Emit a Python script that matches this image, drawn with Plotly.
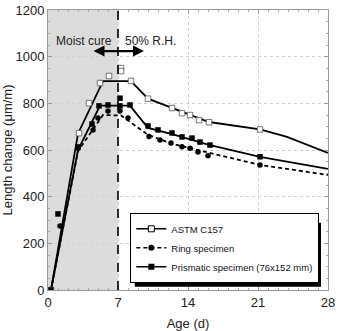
import plotly.graph_objects as go

# ---- data ----
astm_line_x = [0.3, 3.0, 5.5, 8.3, 10.0, 12.4, 14.2, 16.1, 21.2, 23.9, 28.0]
astm_line_y = [0, 670, 895, 895, 820, 780, 750, 720, 688, 656, 587]
astm_pts_x = [0.3, 3.1, 4.1, 5.2, 6.1, 7.3, 7.3, 8.3, 10.0, 12.4, 13.4, 14.2, 15.1, 16.1, 21.2]
astm_pts_y = [0, 672, 801, 887, 917, 951, 938, 896, 820, 780, 758, 750, 728, 719, 688]

ring_line_x = [0.3, 3.0, 5.5, 7.3, 10.0, 12.4, 16.1, 21.2, 28.0]
ring_line_y = [0, 595, 750, 748, 665, 627, 588, 536, 493]
ring_pts_x = [1.2, 3.0, 4.5, 5.0, 6.0, 7.2, 8.0, 10.1, 11.2, 12.3, 13.4, 14.2, 15.0, 16.0, 21.2]
ring_pts_y = [274, 608, 686, 737, 767, 767, 737, 658, 643, 630, 614, 608, 591, 575, 536]

prism_line_x = [0.3, 3.0, 5.2, 8.2, 10.0, 12.4, 16.1, 21.2, 28.0]
prism_line_y = [0, 600, 790, 790, 695, 668, 622, 571, 519]
prism_pts_x = [0.3, 1.0, 3.0, 4.4, 5.1, 6.0, 7.2, 7.2, 8.2, 10.0, 11.0, 12.4, 13.4, 14.4, 15.2, 16.2, 21.2]
prism_pts_y = [0, 326, 613, 711, 789, 793, 822, 789, 793, 703, 686, 673, 656, 651, 634, 621, 571]

series_names = ["ASTM C157", "Ring specimen", "Prismatic specimen (76x152 mm)"]
x_ticks = [0, 7, 14, 21, 28]
y_ticks = [0, 200, 400, 600, 800, 1000, 1200]
cure_end = 7

FONT = "Liberation Sans, Arial, sans-serif"
LW = 1.8

fig = go.Figure()

# lines
fig.add_trace(go.Scatter(x=astm_line_x, y=astm_line_y, mode="lines",
                         line=dict(color="black", width=LW), showlegend=False))
fig.add_trace(go.Scatter(x=ring_line_x, y=ring_line_y, mode="lines",
                         line=dict(color="black", width=LW, dash="4px,3px"), showlegend=False))
fig.add_trace(go.Scatter(x=prism_line_x, y=prism_line_y, mode="lines",
                         line=dict(color="black", width=LW), showlegend=False))
# markers
fig.add_trace(go.Scatter(x=astm_pts_x, y=astm_pts_y, mode="markers",
                         marker=dict(symbol="square", size=5.5, color="white",
                                     line=dict(color="#555", width=0.8)), showlegend=False))
fig.add_trace(go.Scatter(x=ring_pts_x, y=ring_pts_y, mode="markers",
                         marker=dict(symbol="circle", size=5.5, color="black"), showlegend=False))
fig.add_trace(go.Scatter(x=prism_pts_x, y=prism_pts_y, mode="markers",
                         marker=dict(symbol="square", size=5.5, color="black"), showlegend=False))

# legend entries
fig.add_trace(go.Scatter(x=[None], y=[None], mode="lines+markers", name=series_names[0],
                         line=dict(color="black", width=1.6),
                         marker=dict(symbol="square", size=6, color="white",
                                     line=dict(color="black", width=1))))
fig.add_trace(go.Scatter(x=[None], y=[None], mode="lines+markers", name=series_names[1],
                         line=dict(color="black", width=1.6, dash="4px,3px"),
                         marker=dict(symbol="circle", size=6, color="black")))
fig.add_trace(go.Scatter(x=[None], y=[None], mode="lines+markers", name=series_names[2],
                         line=dict(color="black", width=1.6),
                         marker=dict(symbol="square", size=6, color="black")))

shapes = [
    dict(type="rect", xref="x", yref="y", x0=0, x1=cure_end, y0=0, y1=1200,
         fillcolor="#dcdcdc", line=dict(width=0), layer="below"),
    dict(type="line", xref="x", yref="y", x0=cure_end, x1=cure_end, y0=0, y1=1200,
         line=dict(color="black", width=1.6, dash="dash"), layer="above"),
    # legend drop shadow
    dict(type="rect", xref="paper", yref="paper", x0=0.31, x1=0.975, y0=0.012, y1=0.24,
         fillcolor="black", line=dict(width=0), layer="above"),
]

annotations = [
    dict(x=6.6, y=1067, xref="x", yref="y", text="Moist cure", showarrow=False,
         xanchor="right", font=dict(size=12, color="#222", family=FONT)),
    dict(x=7.5, y=1067, xref="x", yref="y", text="50% R.H.", showarrow=False,
         xanchor="left", font=dict(size=12, color="#222", family=FONT)),
    dict(x=9.6, y=1024, ax=4.4, ay=1024, xref="x", yref="y", axref="x", ayref="y",
         text="", showarrow=True, arrowhead=2, arrowside="end+start", arrowsize=1.0,
         arrowwidth=2.2, arrowcolor="black"),
]

fig.update_layout(
    width=338, height=331,
    margin=dict(l=48, r=10, t=10, b=41),
    plot_bgcolor="white", paper_bgcolor="white",
    font=dict(family=FONT, size=12, color="#222"),
    shapes=shapes, annotations=annotations,
    showlegend=True,
    legend=dict(x=0.293, y=0.025, xanchor="left", yanchor="bottom",
                bgcolor="white", bordercolor="black", borderwidth=1.3,
                font=dict(size=9.5, family=FONT, color="#111"),
                tracegroupgap=0, itemwidth=30),
)
fig.update_xaxes(range=[0, 28], tickvals=x_ticks, ticktext=[str(v) for v in x_ticks],
                 showgrid=True, gridcolor="#cfcfcf", griddash="dot", gridwidth=1,
                 zeroline=False, showline=True, linecolor="#999", linewidth=1, mirror="allticks",
                 ticks="inside", ticklen=4, tickcolor="#999", automargin=False,
                 minor=dict(ticks="inside", ticklen=2, dtick=1, tickcolor="#aaa", showgrid=False),
                 title=dict(text="Age (d)", font=dict(size=13)),
                 tickfont=dict(size=13))
fig.update_yaxes(range=[0, 1200], tickvals=y_ticks, ticktext=[str(v) for v in y_ticks],
                 showgrid=True, gridcolor="#cfcfcf", griddash="dot", gridwidth=1,
                 zeroline=False, showline=True, linecolor="#999", linewidth=1, mirror="allticks",
                 ticks="inside", ticklen=4, tickcolor="#999", automargin=False,
                 minor=dict(ticks="inside", ticklen=2, dtick=50, tickcolor="#aaa", showgrid=False),
                 title=dict(text="Length change (μm/m)", font=dict(size=13)),
                 tickfont=dict(size=13))

fig.write_html("out.html")
